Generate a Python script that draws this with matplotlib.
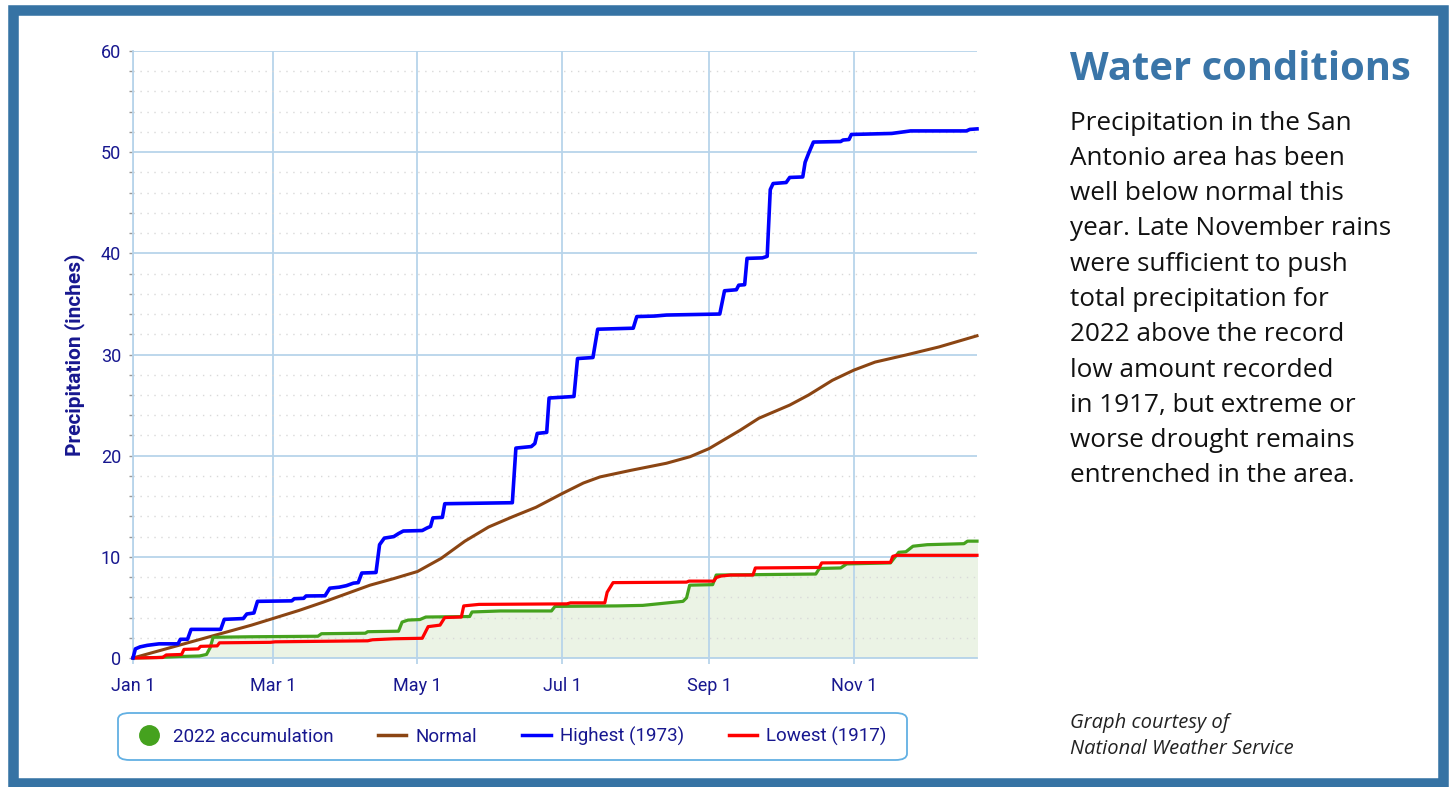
import numpy as np
import matplotlib
matplotlib.use('Agg')
import matplotlib.pyplot as plt
from matplotlib.lines import Line2D
from matplotlib.patches import Rectangle, FancyBboxPatch
from matplotlib.ticker import MultipleLocator, FixedLocator

# ---- data (day of year from Jan 1, inches) ----
high_day = [0, 1, 3, 6, 11, 19, 20, 23, 24.5, 37, 38.5, 46.5, 48, 51, 52.5, 67, 68, 72, 73, 81,
            83, 87, 90, 93, 95, 96.5, 102.5, 104, 106, 110, 112, 114, 122, 124, 125.5, 126.5,
            130.5, 131.5, 160, 161.5, 168, 169.5, 170.5, 174.5, 175.5, 186, 187.5, 194, 196,
            211, 212.5, 220, 225, 247.5, 249.5, 254.5, 255.5, 258, 259, 265.5, 267.5, 268.8,
            270, 275.5, 277, 282.5, 283.5, 285, 287, 298.5, 299.5, 302, 303, 320, 328, 351.5,
            353, 356]
high_val = [0, 0.9, 1.1, 1.25, 1.4, 1.4, 1.85, 1.85, 2.83, 2.83, 3.82, 3.9, 4.35, 4.45, 5.6, 5.65,
            5.86, 5.9, 6.13, 6.15, 6.9, 7.0, 7.15, 7.4, 7.45, 8.4, 8.45, 11.2, 11.85, 12.0, 12.3,
            12.55, 12.6, 12.85, 13.0, 13.85, 13.9, 15.25, 15.35, 20.75, 20.9, 21.2, 22.2, 22.3,
            25.7, 25.85, 29.6, 29.7, 32.5, 32.6, 33.75, 33.8, 33.9, 34.0, 36.3, 36.4, 36.85,
            36.9, 39.5, 39.55, 39.7, 46.3, 46.9, 47.0, 47.5, 47.55, 49.0, 49.9, 51.0, 51.05,
            51.2, 51.25, 51.75, 51.85, 52.1, 52.1, 52.25, 52.3]

normal_day = [0, 10, 20, 30, 40, 50, 59, 70, 80, 90, 100, 110, 120, 130, 140, 150, 160, 170,
              181, 190, 197, 210, 225, 235, 243, 256, 264, 277, 285, 295, 304, 313, 326, 340, 356]
normal_val = [0, 0.65, 1.3, 1.95, 2.6, 3.25, 3.9, 4.7, 5.5, 6.35, 7.2, 7.85, 8.55, 9.85, 11.55,
              12.95, 13.95, 14.9, 16.25, 17.3, 17.9, 18.55, 19.25, 19.9, 20.7, 22.5, 23.7, 25.0,
              26.0, 27.45, 28.45, 29.25, 29.95, 30.75, 31.85]

y2022_day = [0, 10, 20, 28, 31, 32.5, 33.8, 50, 78, 79.5, 98, 99, 112, 113.5, 116, 121, 123.5,
             142, 143, 155, 176.5, 178, 204, 215, 225.5, 232, 233.5, 234.8, 244.5, 246, 288,
             289.5, 298.5, 301, 319.5, 321, 323, 326, 329, 335, 350.5, 352, 356]
y2022_val = [0, 0.05, 0.15, 0.2, 0.35, 1.0, 2.05, 2.1, 2.15, 2.4, 2.45, 2.6, 2.65, 3.55, 3.75,
             3.8, 4.05, 4.1, 4.55, 4.65, 4.65, 5.1, 5.15, 5.2, 5.45, 5.6, 5.95, 7.2, 7.25, 8.2,
             8.3, 8.85, 8.9, 9.3, 9.4, 9.85, 10.45, 10.5, 11.05, 11.2, 11.3, 11.55, 11.55]

low_day = [0, 12.5, 14, 20.5, 21.5, 27.5, 28.5, 35.5, 36.5, 58, 60, 99, 101, 110, 122, 124.5,
           129.5, 131.5, 138.5, 139.5, 146, 183, 184.5, 199, 200, 202.5, 233.5, 234.5, 245,
           246, 248, 252, 261.5, 262.5, 289.5, 290.5, 319.5, 320.5, 322, 356]
low_val = [0, 0.05, 0.3, 0.35, 0.85, 0.9, 1.15, 1.2, 1.5, 1.55, 1.6, 1.7, 1.8, 1.9, 1.95, 3.1,
           3.25, 4.0, 4.05, 5.15, 5.3, 5.35, 5.45, 5.45, 6.5, 7.45, 7.5, 7.6, 7.6, 7.95, 8.1,
           8.2, 8.2, 8.9, 8.95, 9.4, 9.45, 10.05, 10.15, 10.15]

month_ticks = [0, 59, 120, 181, 243, 304]
month_labels = ['Jan 1', 'Mar 1', 'May 1', 'Jul 1', 'Sep 1', 'Nov 1']

body_lines = ['Precipitation in the San', 'Antonio area has been', 'well below normal this',
              'year. Late November rains', 'were sufficient to push', 'total precipitation for',
              '2022 above the record', 'low amount recorded', 'in 1917, but extreme or',
              'worse drought remains', 'entrenched in the area.']

# ---- style ----
W, H = 1453, 787
navy = '#17178f'
gridc = '#b8d4ea'
frame_c = '#3673a4'
c_green, c_brown, c_blue, c_red = '#45a21e', '#8b4513', '#0000ff', '#ff0000'

fig = plt.figure(figsize=(W / 100, H / 100), dpi=100)
fig.patch.set_facecolor('white')

ax = fig.add_axes([133 / W, 1 - 658 / H, (977 - 133) / W, (658 - 51) / H])
ax.set_xlim(0, 356)
ax.set_ylim(0, 60)

ax.fill_between(y2022_day, 0, y2022_val, color='#ebf3e5', zorder=1)
ax.plot(y2022_day, y2022_val, color=c_green, lw=2.3, zorder=4, clip_on=False)
ax.plot(low_day, low_val, color=c_red, lw=2.3, zorder=5, clip_on=False)
ax.plot(normal_day, normal_val, color=c_brown, lw=2.2, zorder=3, clip_on=False)
ax.plot(high_day, high_val, color=c_blue, lw=2.6, zorder=6, clip_on=False)

ax.xaxis.set_major_locator(FixedLocator(month_ticks))
ax.set_xticklabels(month_labels)
ax.yaxis.set_major_locator(MultipleLocator(10))
ax.yaxis.set_minor_locator(MultipleLocator(2))

ax.grid(which='major', axis='both', color=gridc, lw=1.3, zorder=0)
ax.grid(which='minor', axis='y', color='#d9d9d9', lw=1.0, linestyle=(0, (1, 4)), zorder=0)

for s in ['top', 'right']:
    ax.spines[s].set_visible(False)
for s in ['left', 'bottom']:
    ax.spines[s].set_color(gridc)
    ax.spines[s].set_linewidth(1.3)

ax.tick_params(axis='y', which='both', length=3, width=1, color='#999999', pad=5.5,
               labelsize=13, labelcolor=navy)
ax.tick_params(axis='x', length=4, width=1.3, color=gridc, pad=10, labelsize=13, labelcolor=navy)
for lab in ax.get_xticklabels() + ax.get_yticklabels():
    lab.set_fontfamily('Roboto')

ax.set_ylabel('Precipitation (inches)', fontsize=15, fontweight='bold', color=navy,
              fontfamily='Roboto')
ax.yaxis.set_label_coords(-0.057, 0.5)

# legend: box drawn separately, entries from legend
box = FancyBboxPatch((118 / W, 1 - 760 / H), (907 - 118) / W, (760 - 713) / H,
                     boxstyle='round,pad=0,rounding_size=0.008', transform=fig.transFigure,
                     facecolor='white', edgecolor='#62b0e3', linewidth=1.3)
fig.patches.append(box)

handles = [Line2D([], [], color=c_green, marker='o', ls='none', markersize=14),
           Line2D([], [], color=c_brown, lw=2.5),
           Line2D([], [], color=c_blue, lw=2.5),
           Line2D([], [], color=c_red, lw=2.5)]
labels = ['2022 accumulation', 'Normal', 'Highest (1973)', 'Lowest (1917)']
leg = fig.legend(handles, labels, ncol=4, loc='center',
                 bbox_to_anchor=(511 / W, 1 - 736.5 / H),
                 prop={'family': 'Roboto', 'size': 13.5}, labelcolor=navy,
                 handlelength=1.5, handletextpad=0.5, columnspacing=2.4,
                 frameon=False)

# right panel text
fig.text(1070 / W, 1 - 80 / H, 'Water conditions', fontsize=28.8, fontweight='bold',
         color='#3a75a8', fontfamily='Open Sans', va='baseline')
for i, line in enumerate(body_lines):
    fig.text(1070 / W, 1 - (129.5 + 35.3 * i) / H, line, fontsize=18.8, color='#111111',
             fontfamily='Open Sans', va='baseline')
fig.text(1070 / W, 1 - 728 / H, 'Graph courtesy of', fontsize=14.5, style='italic',
         color='#222222', fontfamily='Open Sans', va='baseline')
fig.text(1070 / W, 1 - 754 / H, 'National Weather Service', fontsize=14.5, style='italic',
         color='#222222', fontfamily='Open Sans', va='baseline')

# outer frame
fig.patches.append(Rectangle((13 / W, 1 - 783 / H), (1442.5 - 13) / W, (783 - 9.5) / H,
                             transform=fig.transFigure, fill=False, edgecolor=frame_c,
                             linewidth=7.6, zorder=10))

fig.savefig('out.png', dpi=100)
